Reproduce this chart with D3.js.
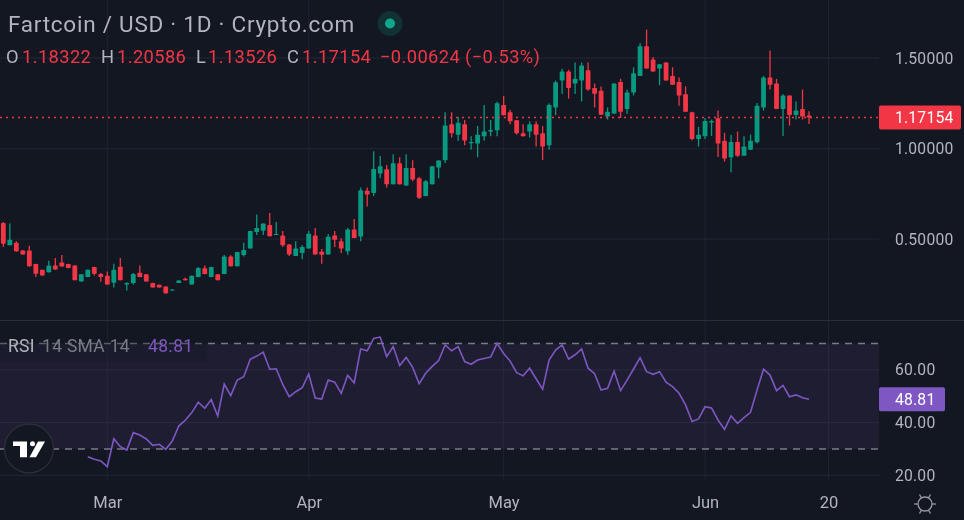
<!DOCTYPE html>
<html>
<head>
<meta charset="utf-8">
<script src="https://cdn.jsdelivr.net/npm/d3@7"></script>
<style>
  html, body { margin: 0; padding: 0; background: #131722; overflow: hidden; }
  svg { display: block; filter: blur(0.35px); }
  text { font-family: Roboto, "Noto Sans", sans-serif; }
</style>
</head>
<body>
<svg id="chart" width="964" height="520"></svg>
<script>
// days counted from 1 March, one candle per day
const firstDay = -16
const opens = [0.589,0.466,0.481,0.438,0.438,0.363,0.331,0.317,0.355,0.372,0.363,0.355,0.267,0.291,0.346,0.308,0.298,0.260,0.348,0.250,0.258,0.315,0.306,0.258,0.249,0.239,0.217,0.258,0.282,0.250,0.291,0.339,0.291,0.306,0.308,0.405,0.350,0.413,0.449,0.540,0.547,0.578,0.523,0.521,0.471,0.407,0.424,0.449,0.521,0.431,0.416,0.521,0.488,0.433,0.554,0.514,0.768,0.755,0.862,0.886,0.803,0.919,0.796,0.893,0.836,0.738,0.803,0.895,0.936,1.134,1.077,1.134,1.029,1.028,1.068,1.094,1.101,1.241,1.201,1.157,1.085,1.094,1.134,1.085,1.018,1.227,1.376,1.425,1.359,1.376,1.433,1.335,1.319,1.177,1.193,1.368,1.219,1.309,1.401,1.565,1.492,1.442,1.475,1.400,1.368,1.300,1.201,1.053,1.068,1.144,1.168,1.044,0.952,1.037,0.961,0.994,1.035,1.227,1.392,1.359,1.219,1.293,1.186,1.219,1.18322]
const highs = [0.595,0.587,0.488,0.440,0.464,0.365,0.332,0.381,0.396,0.413,0.365,0.356,0.308,0.333,0.348,0.315,0.322,0.365,0.396,0.263,0.313,0.355,0.308,0.259,0.250,0.241,0.224,0.274,0.289,0.299,0.346,0.355,0.348,0.308,0.413,0.411,0.431,0.481,0.547,0.637,0.587,0.645,0.595,0.545,0.473,0.488,0.466,0.545,0.562,0.446,0.529,0.545,0.505,0.562,0.611,0.786,0.785,0.985,0.959,0.910,0.969,0.952,0.969,0.936,0.843,0.827,0.903,0.936,1.201,1.201,1.175,1.158,1.068,1.125,1.241,1.158,1.258,1.291,1.215,1.158,1.134,1.151,1.151,1.125,1.249,1.375,1.440,1.435,1.475,1.475,1.475,1.359,1.343,1.227,1.360,1.385,1.326,1.449,1.582,1.657,1.506,1.467,1.476,1.449,1.392,1.343,1.203,1.120,1.169,1.160,1.210,1.087,1.077,1.094,1.068,1.077,1.252,1.400,1.541,1.385,1.300,1.294,1.260,1.326,1.20586]
const lows = [0.457,0.466,0.431,0.414,0.348,0.291,0.299,0.316,0.331,0.348,0.340,0.273,0.265,0.290,0.300,0.265,0.249,0.234,0.273,0.217,0.250,0.290,0.266,0.233,0.233,0.199,0.215,0.258,0.272,0.249,0.290,0.307,0.290,0.273,0.307,0.349,0.349,0.405,0.448,0.523,0.523,0.515,0.523,0.457,0.407,0.407,0.390,0.448,0.415,0.365,0.415,0.457,0.424,0.414,0.505,0.488,0.680,0.738,0.836,0.786,0.802,0.802,0.795,0.820,0.722,0.737,0.802,0.836,0.921,1.061,1.044,1.018,0.994,0.952,1.044,1.068,1.068,1.183,1.134,1.077,1.067,1.061,1.011,0.937,0.994,1.184,1.302,1.276,1.302,1.260,1.319,1.227,1.185,1.160,1.192,1.169,1.193,1.293,1.400,1.441,1.424,1.350,1.375,1.351,1.236,1.202,1.046,1.011,1.053,1.070,0.954,0.928,0.869,0.954,0.960,0.993,1.028,1.210,1.326,1.218,1.070,1.127,1.160,1.160,1.13526]
const closes = [0.475,0.497,0.433,0.416,0.350,0.309,0.300,0.355,0.333,0.350,0.341,0.274,0.306,0.331,0.309,0.291,0.250,0.331,0.274,0.258,0.308,0.291,0.267,0.234,0.234,0.201,0.223,0.272,0.274,0.298,0.341,0.308,0.346,0.274,0.405,0.350,0.429,0.440,0.545,0.562,0.586,0.516,0.529,0.466,0.416,0.448,0.457,0.530,0.416,0.414,0.514,0.497,0.448,0.554,0.506,0.770,0.746,0.888,0.902,0.803,0.919,0.803,0.893,0.829,0.729,0.820,0.902,0.934,1.127,1.085,1.142,1.044,1.037,1.077,1.094,1.103,1.250,1.184,1.151,1.085,1.068,1.134,1.077,1.011,1.241,1.366,1.425,1.335,1.385,1.459,1.326,1.302,1.186,1.203,1.359,1.203,1.309,1.416,1.565,1.442,1.425,1.466,1.376,1.352,1.293,1.203,1.053,1.077,1.153,1.153,1.028,0.945,1.037,0.961,1.011,1.044,1.236,1.392,1.352,1.219,1.293,1.186,1.210,1.177,1.17154]

// RSI starts at the 13th candle
const rsiStart = -3
const rsiValues = [27.1,26.1,25.5,23.3,33.9,30.9,29.6,36.2,35.3,33.8,31.4,31.8,29.9,33.0,38.7,40.9,43.8,47.7,45.4,48.7,42.5,54.6,50.2,56.1,57.4,64.0,65.2,66.7,60.2,60.4,54.5,49.8,51.7,53.2,58.4,49.3,48.9,56.1,55.3,51.1,57.9,55.0,67.9,67.2,71.9,72.4,65.0,68.8,61.6,64.7,60.9,54.7,58.7,61.3,63.5,69.4,67.2,68.8,63.1,62.1,63.7,64.3,64.8,70.0,66.2,63.3,58.9,57.7,60.6,56.6,52.7,63.7,67.5,69.4,64.1,65.7,67.9,60.6,58.5,52.3,53.0,59.5,52.1,56.1,60.3,64.6,59.3,58.3,59.3,55.3,53.6,51.1,46.7,40.4,41.4,46.0,45.5,41.0,37.4,42.5,39.7,41.9,43.9,52.3,60.2,58.0,52.1,54.1,49.8,50.5,49.4,48.81]

const priceTicks = [0.5, 1.0, 1.5]
const rsiTicks = [20, 40, 60]
const rsiBands = [30, 70]
const timeTicks = [0, 31, 61, 92, 111]
const timeLabels = ["Mar", "Apr", "May", "Jun", "20"]
const lastClose = 1.17154
const lastRsi = 48.81

const title = "Fartcoin / USD · 1D · Crypto.com"
const legendOhlc = [
    ["O", "1.18322"],
    ["H", "1.20586"],
    ["L", "1.13526"],
    ["C", "1.17154"],
]
const legendChange = "−0.00624 (−0.53%)"

const width = 964
const height = 520
const plotRight = 879
const up = "#089981"
const down = "#f23645"
const purple = "#7e57c2"
const grid = "#1f2330"
const axisText = "#b2b5be"

const svg = d3.select("#chart")
svg.append("rect").attr("width", width).attr("height", height).attr("fill", "#131722")

const x = d3.scaleLinear().domain([0, 111]).range([107.3, 828.5])
const y = d3.scaleLinear().domain([0.5, 1.5]).range([239.2, 58])
const yRsi = d3.scaleLinear().domain([30, 70]).range([449, 343.4])

// Grid
svg.append("g")
    .selectAll("line")
    .data(timeTicks)
    .join("line")
    .attr("x1", (d) => x(d))
    .attr("x2", (d) => x(d))
    .attr("y1", 0)
    .attr("y2", 481)
    .attr("stroke", grid)
svg.append("g")
    .selectAll("line")
    .data(priceTicks)
    .join("line")
    .attr("x1", 0)
    .attr("x2", plotRight)
    .attr("y1", (d) => y(d))
    .attr("y2", (d) => y(d))
    .attr("stroke", grid)
    .attr("stroke-width", 1.3)
svg.append("g")
    .selectAll("line")
    .data(rsiTicks)
    .join("line")
    .attr("x1", 0)
    .attr("x2", plotRight)
    .attr("y1", (d) => yRsi(d))
    .attr("y2", (d) => yRsi(d))
    .attr("stroke", grid)
    .attr("stroke-width", 1.3)

// Pane separator
svg.append("line")
    .attr("x1", 0)
    .attr("x2", width)
    .attr("y1", 320.5)
    .attr("y2", 320.5)
    .attr("stroke", "#2a2e39")

// Candles
const candles = opens.map((o, i) => ({
    day: firstDay + i,
    open: o,
    high: highs[i],
    low: lows[i],
    close: closes[i],
}))
const candle = svg.append("g")
    .selectAll("g")
    .data(candles)
    .join("g")
    .attr("fill", (d) => (d.close >= d.open ? up : down))
    .attr("stroke", (d) => (d.close >= d.open ? up : down))
candle.append("line")
    .attr("x1", (d) => x(d.day))
    .attr("x2", (d) => x(d.day))
    .attr("y1", (d) => y(d.high))
    .attr("y2", (d) => y(d.low))
    .attr("stroke-width", 1.3)
candle.append("rect")
    .attr("x", (d) => x(d.day) - 2.4)
    .attr("width", 4.8)
    .attr("y", (d) => y(Math.max(d.open, d.close)))
    .attr("height", (d) => Math.max(1, Math.abs(d.open - d.close) * 181))
    .attr("rx", 0.6)
    .attr("stroke", "none")

// Last price line
svg.append("line")
    .attr("x1", 0)
    .attr("x2", plotRight)
    .attr("y1", y(lastClose))
    .attr("y2", y(lastClose))
    .attr("stroke", down)
    .attr("stroke-width", 1.5)
    .attr("stroke-dasharray", "2 4")

// RSI pane
svg.append("rect")
    .attr("x", 0)
    .attr("width", plotRight)
    .attr("y", yRsi(70))
    .attr("height", yRsi(30) - yRsi(70))
    .attr("fill", purple)
    .attr("fill-opacity", 0.1)
svg.append("g")
    .selectAll("line")
    .data(rsiBands)
    .join("line")
    .attr("x1", 0)
    .attr("x2", plotRight)
    .attr("y1", (d) => yRsi(d))
    .attr("y2", (d) => yRsi(d))
    .attr("stroke", "#787b86")
    .attr("stroke-width", 1.5)
    .attr("stroke-dasharray", "7 6")
const rsiLine = d3.line()
    .x((d, i) => x(rsiStart + i))
    .y((d) => yRsi(d))
svg.append("path")
    .attr("d", rsiLine(rsiValues))
    .attr("fill", "none")
    .attr("stroke", purple)
    .attr("stroke-width", 1.6)

// Right axes
const priceAxis = d3.axisRight(y)
    .tickValues(priceTicks)
    .tickSize(0)
    .tickFormat(d3.format(".5f"))
const rsiAxis = d3.axisRight(yRsi)
    .tickValues(rsiTicks)
    .tickSize(0)
    .tickFormat(d3.format(".2f"))
const timeAxis = d3.axisBottom(x)
    .tickValues(timeTicks)
    .tickSize(0)
    .tickFormat((d, i) => timeLabels[i])

svg.append("g").attr("class", "side").attr("transform", "translate(892,0)").call(priceAxis)
svg.append("g").attr("class", "side").attr("transform", "translate(892,0)").call(rsiAxis)
svg.append("g").attr("class", "time").attr("transform", "translate(0,493)").call(timeAxis)
svg.selectAll(".domain").remove()
svg.selectAll(".tick text").attr("fill", axisText)
svg.selectAll(".side .tick text").style("font-size", "15.7px").style("letter-spacing", "0.2px")
svg.selectAll(".time .tick text").style("font-size", "16.5px")

// Price and RSI tags
const tags = [
    { value: lastClose, text: "1.17154", y: y(lastClose), w: 82, color: down },
    { value: lastRsi, text: "48.81", y: yRsi(lastRsi), w: 66, color: purple },
]
const tag = svg.append("g").selectAll("g").data(tags).join("g")
tag.append("rect")
    .attr("x", plotRight)
    .attr("y", (d) => d.y - 12)
    .attr("width", (d) => d.w)
    .attr("height", 24)
    .attr("rx", 2)
    .attr("fill", (d) => d.color)
tag.append("text")
    .attr("x", 895)
    .attr("y", (d) => d.y + 5.5)
    .attr("fill", "#fff")
    .style("font-size", "15.7px")
    .style("letter-spacing", "0.2px")
    .text((d) => d.text)

// Legend
svg.append("text")
    .attr("x", 8)
    .attr("y", 32)
    .attr("fill", axisText)
    .style("font-size", "22.5px")
    .style("letter-spacing", "0.75px")
    .text(title)
svg.append("circle").attr("cx", 390).attr("cy", 23.5).attr("r", 12.5).attr("fill", up).attr("fill-opacity", 0.2)
svg.append("circle").attr("cx", 390).attr("cy", 23.5).attr("r", 5).attr("fill", "#0fa88c")

const legendLetterX = [6, 101, 196, 287]
const legendValueX = [22, 117, 208, 302]
legendOhlc.forEach(([letter, value], i) => {
    svg.append("text")
        .attr("x", legendLetterX[i])
        .attr("y", 63)
        .attr("fill", axisText)
        .style("font-size", "18.3px")
        .text(letter)
    svg.append("text")
        .attr("x", legendValueX[i])
        .attr("y", 63)
        .attr("fill", down)
        .style("font-size", "18.3px")
        .style("letter-spacing", "0.4px")
        .text(value)
})
svg.append("text")
    .attr("x", 380)
    .attr("y", 63)
    .attr("fill", down)
    .style("font-size", "18.3px")
    .style("letter-spacing", "0.4px")
    .text(legendChange)

// RSI legend
svg.append("rect")
    .attr("x", 0)
    .attr("y", 338)
    .attr("width", 207)
    .attr("height", 24)
    .attr("fill", "#131722")
    .attr("fill-opacity", 0.3)
const rsiLegend = [
    { x: 8, color: axisText, text: "RSI" },
    { x: 42, color: "#787b86", text: "14 SMA 14" },
    { x: 148, color: purple, text: "48.81" },
]
svg.append("g")
    .selectAll("text")
    .data(rsiLegend)
    .join("text")
    .attr("x", (d) => d.x)
    .attr("y", 352)
    .attr("fill", (d) => d.color)
    .style("font-size", "17.5px")
    .style("letter-spacing", "0.3px")
    .text((d) => d.text)

// Logo badge
const logo = svg.append("g").attr("transform", "translate(29,448.5)")
logo.append("circle").attr("r", 24.5).attr("fill", "#131722").attr("stroke", "#2a2e39").attr("stroke-width", 1.3)
logo.append("path").attr("fill", "#fff").attr("d", "M-16,-7H-2V8.7H-9V-2.5H-16Z")
logo.append("circle").attr("cx", 3.5).attr("cy", -4.7).attr("r", 2.5).attr("fill", "#fff")
logo.append("path").attr("fill", "#fff").attr("d", "M9,-7H16L7,8.7H0.5Z")

// Settings icon in the corner
const gear = svg.append("g").attr("transform", "translate(925,504)")
    .attr("fill", "none").attr("stroke", "#9598a1").attr("stroke-width", 1.3)
gear.append("circle").attr("r", 7)
gear.selectAll("line")
    .data(d3.range(6))
    .join("line")
    .attr("x1", (d) => 7 * Math.cos((d * Math.PI) / 3))
    .attr("y1", (d) => 7 * Math.sin((d * Math.PI) / 3))
    .attr("x2", (d) => 11 * Math.cos((d * Math.PI) / 3))
    .attr("y2", (d) => 11 * Math.sin((d * Math.PI) / 3))
</script>
</body>
</html>
